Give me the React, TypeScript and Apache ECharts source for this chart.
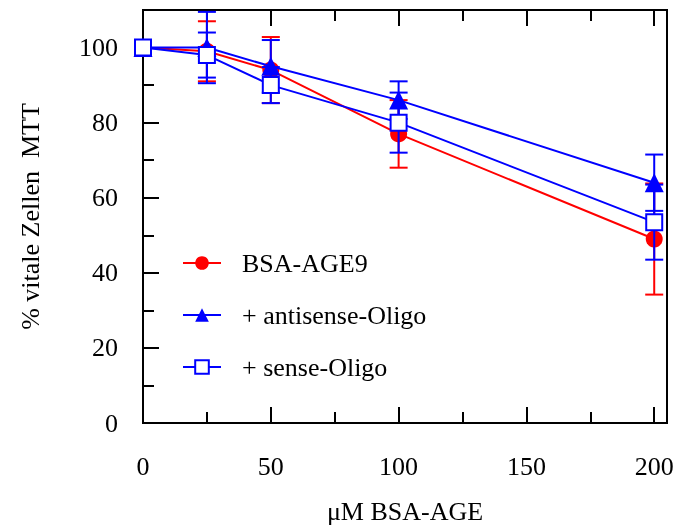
import React, { useEffect, useRef } from "react";
import * as echarts from "echarts";

const concentrations = [0, 25, 50, 100, 200];
const bsaAge9 = [100, 99, 94, 77, 49];
const bsaAge9Err = [0, 8, 8.8, 9, 14.8];
const antisense = [100, 100, 95, 86, 64];
const antisenseErr = [0, 9.5, 7, 5, 7.5];
const sense = [100, 98, 90, 80, 53.5];
const senseErr = [0, 6, 4.8, 8, 10];

const xMajor = [0, 50, 100, 150, 200];
const xMinor = [25, 75, 125, 175];
const yMajor = [0, 20, 40, 60, 80, 100];
const yMinor = [10, 30, 50, 70, 90];

const seriesNames = ["BSA-AGE9", "+ antisense-Oligo", "+ sense-Oligo"];

const RED = "#ff0000";
const BLUE = "#0000ff";
const FONT = "Liberation Serif";

function errSeries(vals: number[], errs: number[], color: string, z: number) {
  return {
    type: "custom",
    xAxisIndex: 0,
    yAxisIndex: 0,
    z,
    clip: true,
    encode: { x: 0, y: 1 },
    data: concentrations.map((c, i) => [c, vals[i], errs[i]]),
    renderItem: (params: any, api: any) => {
      const x = api.value(0);
      const y = api.value(1);
      const e = api.value(2);
      const hi = api.coord([x, y + e]);
      const lo = api.coord([x, y - e]);
      const hw = e ? 9 : 0;
      const style = { stroke: color, lineWidth: e ? 2 : 0 };
      return {
        type: "group",
        children: e
          ? [
              { type: "line", shape: { x1: hi[0], y1: hi[1], x2: lo[0], y2: lo[1] }, style },
              { type: "line", shape: { x1: hi[0] - hw, y1: hi[1], x2: hi[0] + hw, y2: hi[1] }, style },
              { type: "line", shape: { x1: lo[0] - hw, y1: lo[1], x2: lo[0] + hw, y2: lo[1] }, style },
            ]
          : [],
      };
    },
  };
}

function tickAxis(position: string, values: number[], length: number, isX: boolean) {
  return {
    type: "value",
    position,
    min: 0,
    max: isX ? 205 : 110,
    axisLine: { show: false, onZero: false },
    splitLine: { show: false },
    axisTick: {
      show: true,
      inside: true,
      length,
      customValues: values,
      lineStyle: { color: "#000", width: 2 },
    },
    axisLabel: { show: false },
  };
}

export default function App() {
  const ref = useRef<HTMLDivElement>(null);
  useEffect(() => {
    if (!ref.current) return;
    const chart = echarts.init(ref.current, null, { renderer: "svg" });
    const xMain: any = tickAxis("bottom", xMajor, 16, true);
    xMain.axisLabel = {
      show: true,
      customValues: xMajor,
      margin: 30,
      color: "#000",
      fontFamily: FONT,
      fontSize: 26,
    };
    xMain.name = "μM BSA-AGE";
    xMain.nameLocation = "middle";
    xMain.nameGap = 75;
    xMain.nameTextStyle = { color: "#000", fontFamily: FONT, fontSize: 26 };
    const yMain: any = tickAxis("left", yMajor, 16, false);
    yMain.axisLabel = {
      show: true,
      customValues: yMajor,
      margin: 25,
      color: "#000",
      fontFamily: FONT,
      fontSize: 26,
    };
    yMain.name = "% vitale Zellen  MTT";
    yMain.nameLocation = "middle";
    yMain.nameGap = 100;
    yMain.nameTextStyle = { color: "#000", fontFamily: FONT, fontSize: 26 };
    chart.setOption({
      animation: false,
      textStyle: { fontFamily: FONT },
      grid: {
        show: true,
        left: 143,
        top: 10,
        width: 524,
        height: 415,
        borderColor: "#000",
        borderWidth: 2,
      },
      legend: {
        data: seriesNames,
        orient: "vertical",
        left: 182,
        top: 250,
        padding: 0,
        itemGap: 26,
        itemWidth: 38,
        itemHeight: 17,
        textStyle: {
          color: "#000",
          fontFamily: FONT,
          fontSize: 26,
          padding: [0, 0, 0, 16],
        },
      },
      xAxis: [xMain, tickAxis("bottom", xMinor, 11, true), tickAxis("top", xMajor, 16, true), tickAxis("top", xMinor, 11, true)],
      yAxis: [yMain, tickAxis("left", yMinor, 11, false)],
      series: [
        errSeries(bsaAge9, bsaAge9Err, RED, 2),
        {
          name: seriesNames[0],
          type: "line",
          z: 3,
          data: concentrations.map((c, i) => [c, bsaAge9[i]]),
          symbol: "circle",
          symbolSize: 17,
          lineStyle: { color: RED, width: 2 },
          itemStyle: { color: RED },
        },
        errSeries(antisense, antisenseErr, BLUE, 4),
        {
          name: seriesNames[1],
          type: "line",
          z: 5,
          data: concentrations.map((c, i) => [c, antisense[i]]),
          symbol: "triangle",
          symbolSize: 19,
          lineStyle: { color: BLUE, width: 2 },
          itemStyle: { color: BLUE },
        },
        errSeries(sense, senseErr, BLUE, 6),
        {
          name: seriesNames[2],
          type: "line",
          z: 7,
          data: concentrations.map((c, i) => [c, sense[i]]),
          symbol: "rect",
          symbolSize: 16,
          lineStyle: { color: BLUE, width: 2 },
          itemStyle: { color: "#fff", borderColor: BLUE, borderWidth: 2 },
        },
      ],
    });
    return () => chart.dispose();
  }, []);
  return <div ref={ref} style={{ position: "fixed", left: 0, top: 0, width: 680, height: 529 }} />;
}
